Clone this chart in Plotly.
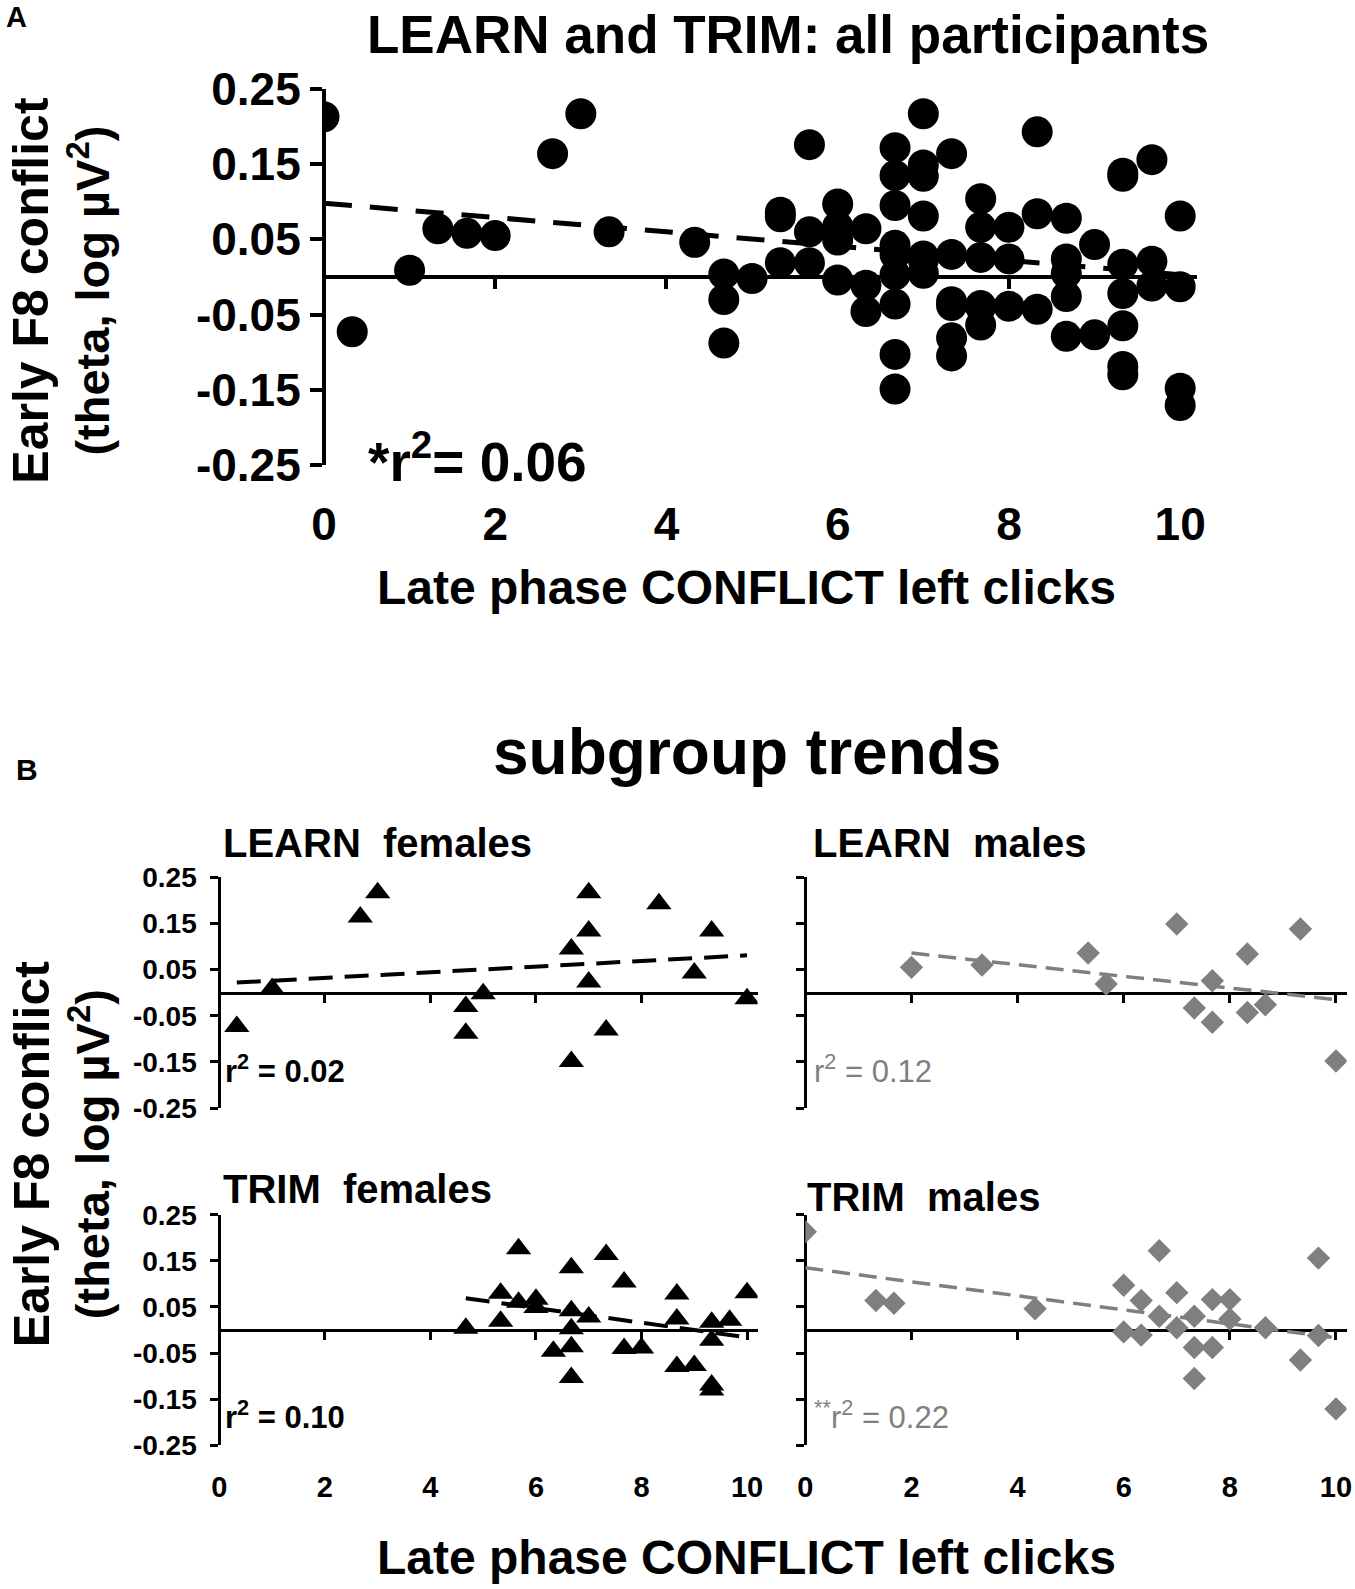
import numpy as np
import plotly.graph_objects as go

W, H = 1355, 1589
FONT = "Liberation Sans, Arial, sans-serif"

# ---------------- data ----------------
x_ticks = [0, 2, 4, 6, 8, 10]
x_tick_labels = ["0", "2", "4", "6", "8", "10"]
y_ticks = [-0.25, -0.15, -0.05, 0.05, 0.15, 0.25]
y_tick_labels = ["-0.25", "-0.15", "-0.05", "0.05", "0.15", "0.25"]

# LEARN females
lf_x = [0.33, 1.0, 2.67, 3.0, 4.67, 4.67, 5.0, 6.67, 6.67, 7.0, 7.0, 7.0, 7.33, 8.33, 9.0, 9.33, 10.0]
lf_y = [-0.073, 0.009, 0.164, 0.217, -0.030, -0.088, -0.002, 0.095, -0.149, 0.217, 0.134, 0.023,
        -0.081, 0.193, 0.043, 0.134, -0.013]
# LEARN males
lm_x = [2.0, 3.33, 5.33, 5.67, 7.0, 7.33, 7.67, 7.67, 8.33, 8.33, 8.67, 9.33, 10.0]
lm_y = [0.055, 0.060, 0.086, 0.019, 0.149, -0.033, 0.026, -0.064, 0.084, -0.043, -0.026, 0.138, -0.148]
# TRIM females
tf_x = [4.67, 5.33, 5.33, 5.67, 5.67, 6.0, 6.0, 6.33, 6.67, 6.67, 6.67, 6.67, 6.67, 7.0, 7.33, 7.67,
        7.67, 8.0, 8.67, 8.67, 8.67, 9.0, 9.33, 9.33, 9.33, 9.33, 9.67, 10.0]
tf_y = [0.004, 0.080, 0.019, 0.176, 0.060, 0.067, 0.049, -0.046, 0.135, 0.042, 0.003, -0.036, -0.103,
        0.028, 0.164, 0.104, -0.040, -0.039, 0.078, 0.024, -0.079, -0.077, 0.017, -0.022, -0.119,
        -0.130, 0.021, 0.081]
# TRIM males
tm_x = [0.0, 1.33, 1.67, 4.33, 6.0, 6.0, 6.33, 6.33, 6.67, 6.67, 7.0, 7.0, 7.33, 7.33, 7.33, 7.67,
        7.67, 8.0, 8.0, 8.67, 9.33, 9.67, 9.67, 10.0]
tm_y = [0.213, 0.064, 0.058, 0.046, 0.097, -0.004, 0.064, -0.011, 0.172, 0.030, 0.081, 0.005, 0.030,
        -0.038, -0.105, 0.066, -0.038, 0.066, 0.024, 0.005, -0.065, 0.156, -0.012, -0.171]

# all participants = union of subgroups
all_x = lf_x + lm_x + tf_x + tm_x
all_y = lf_y + lm_y + tf_y + tm_y

# regression (dashed) lines, end points
all_trend_x = [0.0, 10.0]
all_trend_y = [0.098, 0.003]
lf_trend_x = [0.33, 10.0]
lf_trend_y = [0.022, 0.081]
lm_trend_x = [2.0, 10.0]
lm_trend_y = [0.086, -0.015]
tf_trend_x = [4.67, 10.0]
tf_trend_y = [0.069, -0.016]
tm_trend_x = [0.0, 10.0]
tm_trend_y = [0.135, -0.017]

BLACK = "#000000"
GRAY = "#7f7f7f"


def X(px):
    # layout position (px) of a spot measured on the reference
    return px + (px - 323) * 0.0155 + 3


def Y(py):
    return py + (py - 280) * 0.016


def fx(px):
    return X(px) / W


def fy(py):
    return 1 - Y(py) / H


fig = go.Figure()

# ---------------- panel A ----------------
fig.add_trace(go.Scatter(x=all_trend_x, y=all_trend_y, mode="lines", xaxis="x", yaxis="y",
                         line=dict(color=BLACK, width=5, dash="28px,18px"), showlegend=False))
fig.add_trace(go.Scatter(x=all_x, y=all_y, mode="markers", xaxis="x", yaxis="y",
                         marker=dict(symbol="circle", size=31, color=BLACK), showlegend=False))
fig.add_trace(go.Scatter(x=[None], y=[None], xaxis="x2", yaxis="y", showlegend=False, hoverinfo="skip"))

# ---------------- panel B ----------------
groups = [
    (lf_x, lf_y, lf_trend_x, lf_trend_y, "x3", "y3", "triangle-up", 22, BLACK, 4, "24px,12px"),
    (lm_x, lm_y, lm_trend_x, lm_trend_y, "x4", "y4", "diamond", 18, GRAY, 3.5, "18px,9px"),
    (tf_x, tf_y, tf_trend_x, tf_trend_y, "x5", "y5", "triangle-up", 22, BLACK, 4, "24px,12px"),
    (tm_x, tm_y, tm_trend_x, tm_trend_y, "x6", "y6", "diamond", 18, GRAY, 3.5, "18px,9px"),
]
for gx, gy, tx, ty, xa, ya, sym, sz, col, lw, dash in groups:
    fig.add_trace(go.Scatter(x=tx, y=ty, mode="lines", xaxis=xa, yaxis=ya,
                             line=dict(color=col, width=lw, dash=dash), showlegend=False))
    fig.add_trace(go.Scatter(x=gx, y=gy, mode="markers", xaxis=xa, yaxis=ya,
                             marker=dict(symbol=sym, size=sz, color=col, line=dict(width=0)),
                             showlegend=False))
fig.add_trace(go.Scatter(x=[None], y=[None], xaxis="x7", yaxis="y5", showlegend=False, hoverinfo="skip"))
fig.add_trace(go.Scatter(x=[None], y=[None], xaxis="x8", yaxis="y6", showlegend=False, hoverinfo="skip"))


def zero_xaxis(left, right, zero_px, lw, tl):
    return dict(domain=[fx(left), fx(right)], range=[0, 10.2], anchor="free", position=fy(zero_px),
                showline=True, linecolor=BLACK, linewidth=lw, ticks="outside", ticklen=tl,
                tickwidth=lw, tickcolor=BLACK, tickvals=x_ticks, showticklabels=False,
                showgrid=False, zeroline=False, layer="below traces", fixedrange=True,
                automargin=False)


def label_xaxis(over, pos_px, size):
    return dict(overlaying=over, range=[0, 10.2], anchor="free", position=fy(pos_px),
                showline=False, ticks="", tickvals=x_ticks, ticktext=x_tick_labels,
                tickfont=dict(family=FONT, size=size, color=BLACK, weight="bold"),
                showgrid=False, zeroline=False, automargin=False)


def yax(top, bottom, left, lw, tl, labels, size, standoff):
    return dict(domain=[fy(bottom), fy(top)], range=[-0.25, 0.25], anchor="free", position=fx(left),
                showline=True, linecolor=BLACK, linewidth=lw, ticks="outside", ticklen=tl,
                tickwidth=lw, tickcolor=BLACK, tickvals=y_ticks, ticktext=y_tick_labels,
                showticklabels=labels, ticklabelstandoff=standoff,
                tickfont=dict(family=FONT, size=size, color=BLACK, weight="bold"),
                showgrid=False, zeroline=False, layer="below traces", fixedrange=True,
                automargin=False)


A_L, A_R, A_T, A_B = 321, 1181, 92, 462
A_Z = (A_T + A_B) / 2
LX_L, LX_R, RX_L, RX_R = 218, 748, 795, 1328
T_T, T_B, B_T, B_B = 868, 1095, 1200, 1427

fig.update_layout(
    width=W, height=H, autosize=False,
    margin=dict(l=0, r=0, t=0, b=0, pad=0, autoexpand=False),
    showlegend=False,
    paper_bgcolor="white", plot_bgcolor="white",
    font=dict(family=FONT, color=BLACK),
    xaxis=zero_xaxis(A_L, A_R, A_Z, 4, 10),
    xaxis2=label_xaxis("x", 490, 46),
    yaxis=yax(A_T, A_B, A_L, 4, 12, True, 46, 0),
    xaxis3=zero_xaxis(LX_L, LX_R, (T_T + T_B) / 2, 3, 8),
    yaxis3=yax(T_T, T_B, LX_L, 3, 8, True, 28, 8),
    xaxis4=zero_xaxis(RX_L, RX_R, (T_T + T_B) / 2, 3, 8),
    yaxis4=yax(T_T, T_B, RX_L, 3, 8, False, 28, 8),
    xaxis5=zero_xaxis(LX_L, LX_R, (B_T + B_B) / 2, 3, 8),
    yaxis5=yax(B_T, B_B, LX_L, 3, 8, True, 28, 8),
    xaxis6=zero_xaxis(RX_L, RX_R, (B_T + B_B) / 2, 3, 8),
    yaxis6=yax(B_T, B_B, RX_L, 3, 8, False, 28, 8),
    xaxis7=label_xaxis("x5", 1448, 29),
    xaxis8=label_xaxis("x6", 1448, 29),
)


def ann(text, xpx, ypx, size, color=BLACK, bold=True, xanchor="center", angle=0, yanchor="middle"):
    fig.add_annotation(text=text, x=fx(xpx), y=fy(ypx), xref="paper", yref="paper",
                       showarrow=False, xanchor=xanchor, yanchor=yanchor, textangle=angle,
                       font=dict(family=FONT, size=size, color=color,
                                 weight="bold" if bold else "normal"))


# panel labels & titles
ann("A", 6, 3, 29, xanchor="left", yanchor="top")
ann("B", 16, 762, 30, xanchor="left")
ann("LEARN and TRIM: all participants", 778, 38, 53)
ann("subgroup trends", 738, 745, 64)

# axis titles panel A
ann("Early F8 conflict", 33, 290, 50, angle=-90)
ann("(theta, log µV<sup>2</sup>)", 90, 290, 47, angle=-90)
ann("Late phase CONFLICT left clicks", 737, 583, 48)
ann("*r<sup>2</sup>= 0.06", 362, 455, 55, xanchor="left")

# axis titles panel B
ann("Early F8 conflict", 33, 1140, 50, angle=-90)
ann("(theta, log µV<sup>2</sup>)", 90, 1140, 47, angle=-90)
ann("Late phase CONFLICT left clicks", 737, 1537, 48)

# subplot titles
ann("LEARN\u00a0 females", 220, 834, 40, xanchor="left")
ann("LEARN\u00a0 males", 801, 834, 40, xanchor="left")
ann("TRIM\u00a0 females", 220, 1175, 40, xanchor="left")
ann("TRIM\u00a0 males", 795, 1183, 40, xanchor="left")

# r2 labels
ann("r<sup>2</sup> = 0.02", 222, 1057, 31, xanchor="left")
ann("r<sup>2</sup> = 0.12", 802, 1057, 31, color=GRAY, bold=False, xanchor="left")
ann("r<sup>2</sup> = 0.10", 222, 1397, 31, xanchor="left")
ann("<sup>**</sup>r<sup>2</sup> = 0.22", 802, 1397, 31, color=GRAY, bold=False, xanchor="left")

fig.write_html("out.html", config={"displayModeBar": False},
               post_script="document.body.style.margin='0px';"
                           "document.documentElement.style.overflow='hidden';")
